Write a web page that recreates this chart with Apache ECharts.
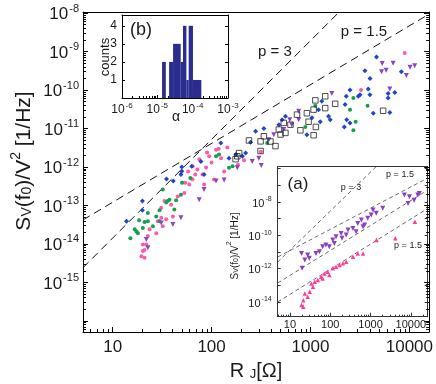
<!DOCTYPE html>
<html>
<head>
<meta charset="utf-8">
<script src="https://cdn.jsdelivr.net/npm/echarts@6/dist/echarts.min.js"></script>
<style>
  html, body { margin: 0; padding: 0; background: #fff; }
  #chart { width: 436px; height: 384px; }
</style>
</head>
<body>
<div id="chart"></div>
<script>
// main plot: [R_J (Ohm), Sv(f0)/V^2 (1/Hz)]
const blueData = [
  [13.8, 3.9e-14], [20, 1.3e-13], [20, 7.5e-14], [35, 4.9e-13], [41, 4.3e-13], [49, 6.4e-13],
  [50, 7.7e-13], [50, 1.0e-12], [63, 1.05e-12], [78, 1.4e-12], [84, 6.4e-13], [124, 4.2e-12],
  [150, 1.7e-12], [176, 2.1e-12], [205, 1.9e-12], [221, 2.3e-12], [248, 4.4e-12], [279, 8.5e-12],
  [338, 1.0e-11], [479, 1.26e-11], [516, 1.7e-11], [558, 2.1e-11], [920, 6.9e-12], [1035, 1.9e-11],
  [1208, 3.1e-11], [1256, 1.5e-11], [1303, 5.1e-11], [1521, 2.1e-11], [1585, 1.7e-11], [2239, 4.2e-11],
  [2300, 6.9e-11], [2200, 1.1e-11], [2323, 1.7e-11], [2512, 1.4e-11], [2512, 1.0e-10], [3048, 6.9e-11],
  [3170, 7.6e-11], [3556, 3.2e-10], [3837, 1.07e-10], [3990, 7.6e-11], [4000, 2.0e-10], [4315, 2.5e-11],
  [4656, 7.2e-10], [6095, 8.1e-11], [6100, 6.2e-11], [6340, 2.6e-11], [7120, 8.7e-11], [8300, 3.0e-10]
];
const greenData = [
  [15.1, 1.4e-14], [16.7, 2.4e-14], [17.4, 2.1e-14], [18, 1.9e-14], [18.5, 4.1e-14], [20.2, 2.6e-14],
  [21, 3.7e-14], [22.7, 3.9e-14], [22.7, 6.4e-14], [25.5, 2.9e-14], [27.6, 5.2e-14], [29.8, 3.9e-14],
  [29.8, 7.5e-14], [32.1, 2.6e-13], [34.8, 1.2e-13], [36, 1.3e-13], [37.5, 1.4e-13], [42, 7.8e-14],
  [43.8, 1.37e-13], [49, 1.9e-13], [50.3, 3.9e-13], [61, 5.2e-13], [111, 1.9e-12], [119, 2.1e-12],
  [150, 9.5e-13], [163, 1.04e-12], [365, 4.2e-12], [887, 1.1e-11], [1120, 3.9e-11], [2512, 3.1e-11],
  [2716, 6.2e-11], [2865, 1.5e-11], [2716, 9.0e-12], [3776, 3.9e-11]
];
const pinkData = [
  [19.5, 4.8e-15], [20.2, 6.5e-15], [21, 4.4e-15], [20.2, 9.7e-15], [21.9, 9.7e-15], [21, 7.0e-15],
  [22.7, 1.6e-14], [23.6, 2.4e-14], [27.6, 1.9e-14], [28.6, 3.9e-14], [31, 4.8e-14], [32.1, 2.9e-14],
  [34.8, 4.4e-14], [31, 8.7e-14], [33.4, 1.3e-13], [39, 1.05e-13], [40.6, 5.2e-14], [45.5, 1.7e-13],
  [53, 2.1e-13], [54, 3.9e-13], [59.6, 3.5e-13], [58, 7.6e-13], [64.3, 1.04e-12], [64, 4.8e-13],
  [68.4, 6.4e-13], [71.8, 8.6e-13], [75.2, 1.6e-12], [81, 6.4e-13], [84, 3.5e-13], [88, 9.7e-13],
  [90, 2.4e-12], [94.6, 1.9e-12], [100, 1.3e-12], [106, 4.7e-13], [111, 2.8e-12], [118, 3.0e-12],
  [125, 1.7e-12], [134, 7.6e-13], [144, 3.2e-12], [185, 1.15e-12], [213, 1.5e-12], [315, 2.5e-12],
  [3243, 1.0e-10], [8970, 9.2e-10]
];
const purpleData = [
  [21.9, 1.3e-14], [22.7, 7.9e-15], [31, 3.5e-14], [40.6, 3.2e-14], [49, 4.8e-14], [75, 1.4e-13],
  [84, 2.6e-13], [111, 4.3e-13], [134, 4.6e-13], [182, 9.5e-13], [258, 1.4e-12], [301, 1.7e-12],
  [318, 1.1e-12], [379, 5.1e-12], [426, 6.9e-12], [537, 9.5e-12], [646, 1.26e-11], [617, 1.7e-11],
  [760, 2.8e-11], [760, 1.7e-11], [1644, 8.1e-11], [5224, 3.0e-10], [5310, 4.9e-10], [6855, 5.0e-10],
  [5820, 3.3e-10], [6340, 1.07e-10], [9330, 2.4e-10], [10160, 3.9e-10], [11320, 4.3e-10]
];
const squareData = [
  [175, 1.6e-12], [182, 1.9e-12], [190, 2.3e-12], [239, 4.9e-12], [313, 2.6e-12], [313, 4.65e-12],
  [338, 6.3e-12], [394, 4.6e-12], [443, 3.5e-12], [479, 9.4e-12], [537, 1.4e-11], [558, 7.7e-12],
  [628, 1.26e-11], [498, 7.0e-12], [731, 2.3e-11], [791, 9.0e-12], [920, 2.5e-11], [957, 1.5e-11],
  [1076, 3.1e-11], [1076, 6.7e-12], [1120, 5.4e-11], [1135, 1.1e-11], [1409, 6.9e-11], [1409, 3.4e-11],
  [1778, 4.4e-11], [5430, 2.9e-11]
];
// guide lines (end points)
const lineP15 = [[5, 4.2e-14], [15000, 8.7e-9]];
const lineP3 = [[5, 2.4e-15], [1900, 1.0e-8]];

// inset (b): histogram of alpha
const binLo = [1.36e-5, 2.15e-5, 2.79e-5, 4.59e-5, 5.33e-5, 6.65e-5, 7.71e-5, 1.02e-4];
const binHi = [1.74e-5, 2.79e-5, 4.59e-5, 5.33e-5, 6.65e-5, 7.71e-5, 1.02e-4, 1.76e-4];
const counts = [2, 2, 3, 2, 4, 1, 4, 1];

// inset (a)
const insetPurple = [
  [19.3, 8.3e-12], [23.3, 3.3e-12], [19.9, 1.05e-12], [27.5, 6.6e-12], [30.2, 4.2e-12], [44, 8.3e-12],
  [53.7, 1.05e-11], [64.6, 2.1e-11], [78, 2.6e-11], [94.6, 2.1e-11], [115, 5.2e-11], [126, 3.3e-11],
  [139, 8.3e-11], [186, 1.3e-10], [195, 6.6e-11], [248, 1.05e-10], [275, 2.1e-10], [365, 2.6e-10],
  [437, 1.66e-10], [480, 5.2e-10], [590, 8.3e-10], [650, 3.3e-10], [710, 4.2e-10], [850, 1.05e-9],
  [1035, 1.66e-9], [1150, 3.3e-9], [1380, 2.1e-9], [2000, 4.2e-9], [6900, 2.6e-8], [8500, 8.3e-9],
  [9200, 2.1e-8], [12000, 1.3e-8], [14800, 2.6e-8], [16200, 3.3e-8]
];
const insetPink = [
  [19.3, 6.6e-15], [21.4, 1.3e-14], [23.3, 3.3e-14], [21.4, 5.2e-15], [27.5, 2.1e-14], [30.9, 4.2e-14],
  [34, 1.3e-13], [37.2, 8.3e-14], [41, 1.66e-13], [49, 2.1e-13], [59, 3.3e-13], [64.6, 2.6e-13],
  [71, 5.2e-13], [86, 6.6e-13], [95, 4.2e-13], [115, 1.05e-12], [139, 1.3e-12], [170, 1.66e-12],
  [205, 2.1e-12], [248, 2.6e-12], [365, 5.2e-12], [480, 8.3e-12], [650, 8.3e-12], [1400, 5.2e-11],
  [4100, 6.6e-11], [12600, 6.6e-10]
];
const insetLines = [
  [[4.95, 2.5e-12], [1360, 1.3e-6]],
  [[4.95, 5.0e-12], [26100, 2.75e-7]],
  [[4.95, 1.38e-13], [26100, 5.2e-8]],
  [[4.95, 1.0e-14], [26100, 4.1e-9]]
];

const FONT = '"Liberation Sans", Arial, Helvetica, sans-serif';
const INK = '#1a1a1a';

// axes are drawn in log10 space
const toLog = arr => arr.map(d => [Math.log10(d[0]), Math.log10(d[1])]);
const range = (a, b) => { const r = []; for (let i = a; i <= b; i++) r.push(i); return r; };
const minorLog = (lo, hi) => {
  const r = [];
  for (let n = Math.floor(lo); n <= Math.ceil(hi); n++)
    for (let k = 2; k <= 9; k++) { const v = n + Math.log10(k); if (v > lo && v < hi) r.push(v); }
  return r;
};
const supRich = (fs, sfs, color) => ({
  b: { fontSize: fs, lineHeight: fs + 3, verticalAlign: 'bottom', fontFamily: FONT, color },
  s: { fontSize: sfs, lineHeight: sfs, padding: [0, 0, Math.round(fs * 0.5), 1], verticalAlign: 'bottom', fontFamily: FONT, color }
});
const nameRich = (fs, color) => ({
  m: { fontSize: fs, lineHeight: fs + 4, verticalAlign: 'bottom', fontFamily: FONT, color },
  d: { fontSize: Math.round(fs * 0.66), lineHeight: Math.round(fs * 0.66), verticalAlign: 'bottom', fontFamily: FONT, color },
  u: { fontSize: Math.round(fs * 0.66), lineHeight: Math.round(fs * 0.66), verticalAlign: 'top', fontFamily: FONT, color }
});
const pow10 = v => '{b|10}{s|' + Math.round(v) + '}';

function axis(gridIndex, position, ext, o) {
  const color = o.color || '#000';
  return {
    type: 'value', gridIndex, position, min: ext[0], max: ext[1],
    axisLine: { show: o.line !== false, onZero: false, lineStyle: { color, width: 1 } },
    axisTick: o.ticks
      ? { show: true, inside: true, length: o.len, customValues: o.ticks, lineStyle: { color, width: 1 } }
      : { show: false },
    axisLabel: o.labels
      ? { show: true, customValues: o.labels, formatter: o.fmt, margin: o.margin, color: INK,
          fontFamily: FONT, fontSize: o.fs, rich: o.rich }
      : { show: false },
    splitLine: { show: false },
    minorTick: { show: false }
  };
}

const mainX = [0.7, 4.2], mainY = [-16.29, -7.97];
const bX = [-6, -3], bY = [0, 4.6];
const aX = [0.695, 4.417], aY = [-14.88, -5.88];

const xAxis = [
  axis(0, 'bottom', mainX, { ticks: range(1, 4), len: 5, labels: range(1, 4), fmt: v => String(Math.round(Math.pow(10, v))), margin: 7, fs: 17 }),
  axis(0, 'bottom', mainX, { line: false, ticks: minorLog(...mainX), len: 3 }),
  axis(0, 'top', mainX, {}),
  axis(1, 'bottom', bX, { ticks: range(-6, -3), len: 3, labels: range(-6, -3), fmt: pow10, margin: 3, rich: supRich(12, 8, INK) }),
  axis(1, 'bottom', bX, { line: false, ticks: minorLog(...bX), len: 2 }),
  axis(1, 'top', bX, {}),
  axis(2, 'bottom', aX, { color: '#333', ticks: range(1, 4), len: 4, labels: range(1, 4), fmt: v => String(Math.round(Math.pow(10, v))), margin: 3, fs: 11 }),
  axis(2, 'bottom', aX, { color: '#333', line: false, ticks: minorLog(...aX), len: 2 }),
  axis(2, 'top', aX, { color: '#333' })
];
const yAxis = [
  axis(0, 'left', mainY, { ticks: range(-16, -8), len: 5, labels: range(-15, -8), fmt: pow10, margin: 4, rich: supRich(17, 11, INK) }),
  axis(0, 'left', mainY, { line: false, ticks: minorLog(...mainY), len: 3 }),
  axis(0, 'right', mainY, { ticks: range(-16, -8), len: 5 }),
  axis(0, 'right', mainY, { line: false, ticks: minorLog(...mainY), len: 3 }),
  axis(1, 'left', bY, { ticks: range(0, 4), len: 3, labels: range(1, 4), fmt: v => String(v), margin: 5, fs: 12 }),
  axis(1, 'right', bY, { ticks: range(0, 4), len: 3 }),
  axis(2, 'left', aY, { color: '#333', ticks: range(-14, -6), len: 3, labels: [-14, -12, -10, -8], fmt: pow10, margin: 6, rich: supRich(11, 7, INK) }),
  axis(2, 'right', aY, { color: '#333', ticks: range(-14, -6), len: 3 })
];

const scatter = (data, xi, yi, symbol, size, color, extra) => Object.assign({
  type: 'scatter', xAxisIndex: xi, yAxisIndex: yi, data: toLog(data), symbol, symbolSize: size,
  itemStyle: { color, opacity: 1 }, silent: true, z: 3
}, extra || {});
const dashed = (data, xi, yi, color, width, dash) => ({
  type: 'line', xAxisIndex: xi, yAxisIndex: yi, data: toLog(data), showSymbol: false, silent: true,
  lineStyle: { color, width, type: dash }, clip: true, z: 2
});

const series = [
  dashed(lineP15, 0, 0, '#111', 1, [8, 5]),
  dashed(lineP3, 0, 0, '#111', 1, [8, 5]),
  scatter(pinkData, 0, 0, 'circle', 4, '#ff5aa9'),
  scatter(greenData, 0, 0, 'circle', 4, '#14a04c'),
  scatter(purpleData, 0, 0, 'triangle', 5, '#8a45c4', { symbolRotate: 180 }),
  scatter(blueData, 0, 0, 'diamond', 5, '#1f45c9'),
  scatter(squareData, 0, 0, 'rect', 5.5, 'rgba(0,0,0,0)', {
    itemStyle: { color: 'rgba(255,255,255,0)', borderColor: '#222', borderWidth: 1 }
  }),
  {
    type: 'custom', xAxisIndex: 3, yAxisIndex: 4, silent: true,
    data: binLo.map((lo, i) => [Math.log10(lo), Math.log10(binHi[i]), counts[i]]),
    encode: { x: [0, 1], y: 2 },
    renderItem: (params, api) => {
      const p0 = api.coord([api.value(0), 0]);
      const p1 = api.coord([api.value(1), api.value(2)]);
      return {
        type: 'rect',
        shape: { x: p0[0], y: p1[1], width: p1[0] - p0[0], height: p0[1] - p1[1] },
        style: { fill: '#2a2d8f' }
      };
    }
  },
  ...insetLines.map(l => dashed(l, 6, 6, '#444', 0.8, [4, 3])),
  scatter(insetPurple, 6, 6, 'triangle', 5, '#8a3fc0', { symbolRotate: 180 }),
  scatter(insetPink, 6, 6, 'triangle', 4.5, '#ff3d9a')
];

const text = (x, y, t, fs, extra) => Object.assign({
  type: 'text', x, y, z: 100, silent: true,
  style: { text: t, fontSize: fs, fontFamily: FONT, fill: INK, align: 'center', verticalAlign: 'middle' }
}, extra || {});
const richText = (x, y, t, rich, rotation) => ({
  type: 'text', x, y, rotation: rotation || 0, z: 100, silent: true,
  style: { text: t, rich, fill: INK, align: 'center', verticalAlign: 'middle', fontFamily: FONT }
});

const graphic = [
  richText(22, 161, '{m|S}{d|V}{m|(f}{d|0}{m|)/V}{u|2}{m| [1/Hz]}', nameRich(21, INK), Math.PI / 2),
  richText(256, 369, '{m|R }{d|J}{m|[Ω]}', nameRich(20, INK)),
  text(275, 52, 'p = 3', 15),
  text(364, 32, 'p = 1.5', 15),
  text(141, 30, '(b)', 18),
  text(105, 57, 'counts', 13, { rotation: Math.PI / 2 }),
  text(176, 117, 'α', 14),
  text(298, 184, '(a)', 17),
  text(351, 188, 'p = 3', 9),
  text(400, 175, 'p = 1.5', 9),
  text(408, 246, 'p = 1.5', 9),
  richText(233, 246, '{m|S}{d|V}{m|(f}{d|0}{m|)/V}{u|2}{m| [1/Hz]}', nameRich(10, INK), Math.PI / 2)
];

echarts.init(document.getElementById('chart')).setOption({
  animation: false,
  backgroundColor: '#fff',
  grid: [
    { left: 83, right: 4, top: 12, bottom: 52 },
    { left: 122, top: 15, width: 106, height: 83, show: true, backgroundColor: '#fff', borderWidth: 0 },
    { left: 277.7, right: 8.3, top: 166.7, bottom: 67.3, show: true, backgroundColor: '#fff', borderWidth: 0 }
  ],
  xAxis,
  yAxis,
  series,
  graphic
});
</script>
</body>
</html>
